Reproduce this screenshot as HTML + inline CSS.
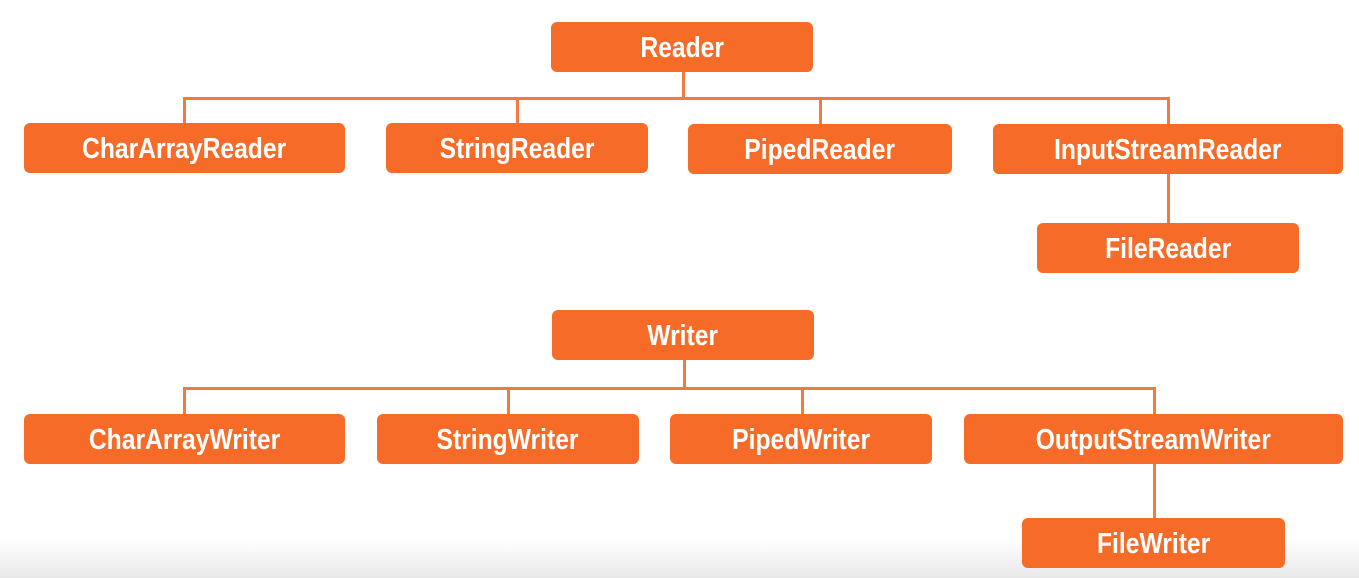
<!DOCTYPE html>
<html><head><style>
html,body{margin:0;padding:0;}
body{width:1359px;height:578px;position:relative;overflow:hidden;background:#fff;font-family:"Liberation Sans",sans-serif;}
.b{position:absolute;background:#f76b28;border-radius:6px;color:#fff;font-weight:bold;font-size:29px;display:flex;align-items:center;justify-content:center;height:50px;}
.b span{display:inline-block;transform:scaleX(0.85);white-space:nowrap;position:relative;top:1px;}
.l{position:absolute;background:#f27a3e;}
.g{position:absolute;left:0;top:540px;width:1359px;height:38px;background:linear-gradient(#fff,#e8e8e8);}
</style></head><body>
<div class="g"></div>
<!-- reader lines -->
<div class="l" style="left:682px;top:72px;width:3px;height:27px"></div>
<div class="l" style="left:183px;top:97px;width:987px;height:3px"></div>
<div class="l" style="left:183px;top:97px;width:3px;height:27px"></div>
<div class="l" style="left:516px;top:97px;width:3px;height:27px"></div>
<div class="l" style="left:819px;top:97px;width:3px;height:27px"></div>
<div class="l" style="left:1167px;top:97px;width:3px;height:27px"></div>
<div class="l" style="left:1167px;top:174px;width:3px;height:49px"></div>
<!-- writer lines -->
<div class="l" style="left:683px;top:360px;width:3px;height:29px"></div>
<div class="l" style="left:183px;top:387px;width:973px;height:3px"></div>
<div class="l" style="left:183px;top:387px;width:3px;height:27px"></div>
<div class="l" style="left:507px;top:387px;width:3px;height:27px"></div>
<div class="l" style="left:801px;top:387px;width:3px;height:27px"></div>
<div class="l" style="left:1153px;top:387px;width:3px;height:27px"></div>
<div class="l" style="left:1153px;top:464px;width:3px;height:54px"></div>

<div class="b" style="left:551px;top:22px;width:262px"><span>Reader</span></div>
<div class="b" style="left:24px;top:123px;width:321px"><span>CharArrayReader</span></div>
<div class="b" style="left:386px;top:123px;width:262px"><span>StringReader</span></div>
<div class="b" style="left:688px;top:124px;width:264px"><span>PipedReader</span></div>
<div class="b" style="left:993px;top:124px;width:350px"><span>InputStreamReader</span></div>
<div class="b" style="left:1037px;top:223px;width:262px"><span>FileReader</span></div>

<div class="b" style="left:552px;top:310px;width:262px"><span>Writer</span></div>
<div class="b" style="left:24px;top:414px;width:321px"><span>CharArrayWriter</span></div>
<div class="b" style="left:377px;top:414px;width:262px"><span>StringWriter</span></div>
<div class="b" style="left:670px;top:414px;width:262px"><span>PipedWriter</span></div>
<div class="b" style="left:964px;top:414px;width:379px"><span>OutputStreamWriter</span></div>
<div class="b" style="left:1022px;top:518px;width:263px"><span>FileWriter</span></div>
</body></html>
